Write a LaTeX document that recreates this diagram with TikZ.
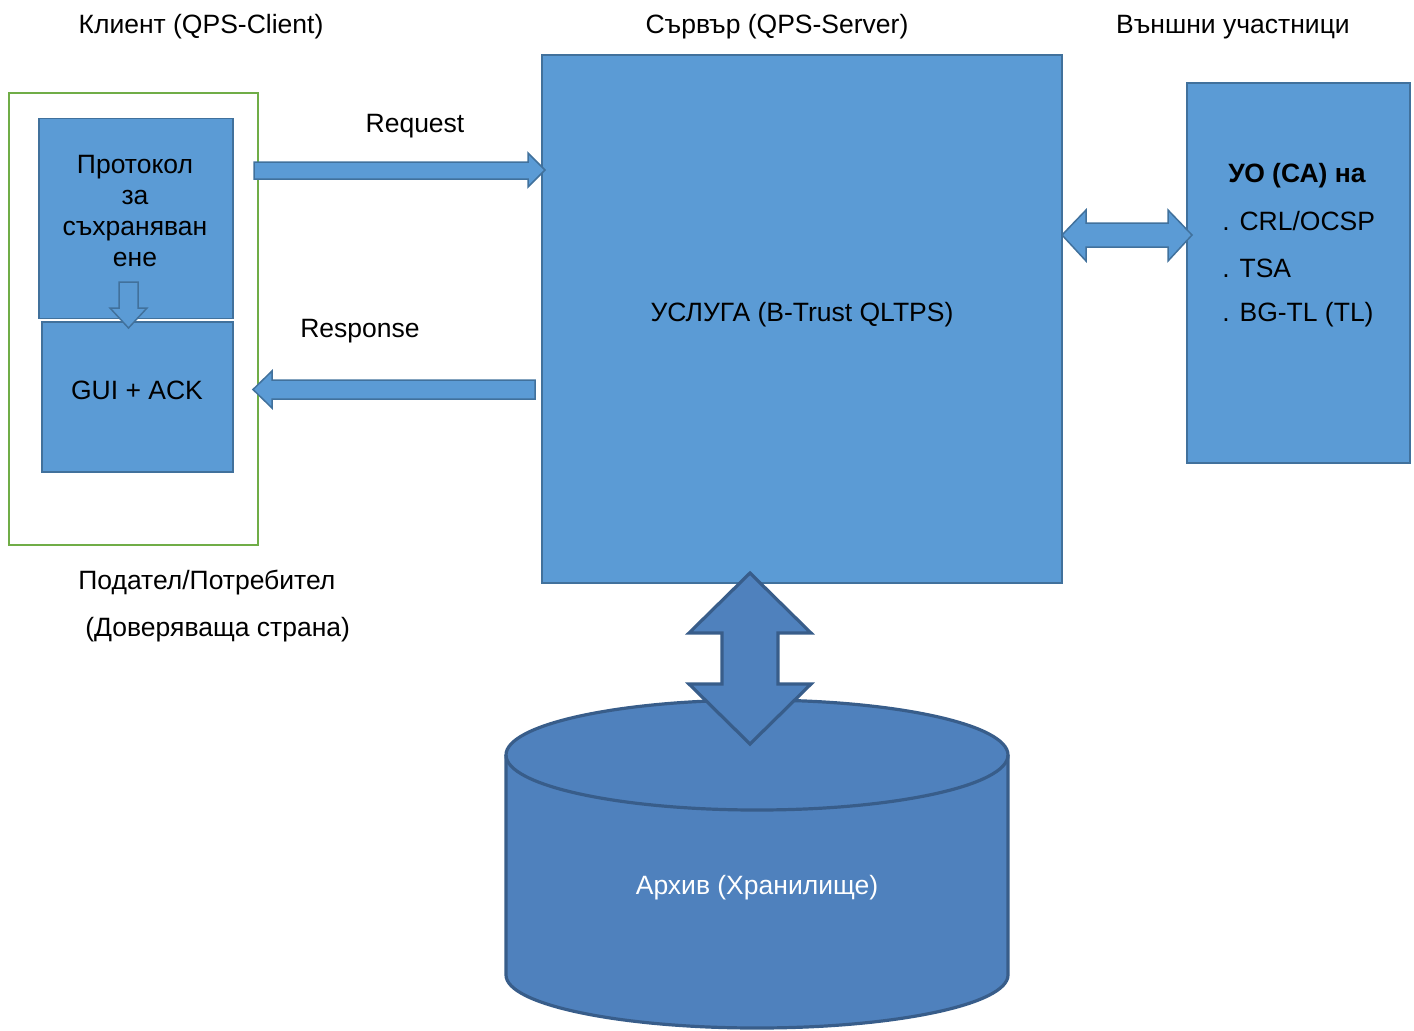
\documentclass[tikz,border=0pt]{standalone}
\usepackage{fontspec}
\setmainfont{Liberation Sans}
\definecolor{boxfill}{HTML}{5B9BD5}
\definecolor{boxline}{HTML}{41719C}
\definecolor{grn}{HTML}{70AD47}
\definecolor{cylfill}{HTML}{4F81BD}
\definecolor{cylline}{HTML}{385D8A}
\begin{document}
\begin{tikzpicture}[x=0.5pt,y=0.5pt,
  txt/.style={font=\fontsize{13.25}{15.5}\selectfont, inner sep=0pt, text=black, yshift=-1.5pt},
  bluebox/.style={draw=boxline, fill=boxfill, line width=0.75pt, inner sep=0pt},
  blockarrow/.style={draw=boxline, fill=boxfill, line width=0.75pt, line join=miter},
  bigarrow/.style={draw=cylline, fill=cylfill, line width=1.6pt, line join=miter}]
\useasboundingbox (0,0) rectangle (1414,-1030);
% titles
\node[txt] (tclient) at (201,-24) {Клиент (QPS-Client)};
\node[txt] (tserver) at (777,-24) {Сървър (QPS-Server)};
\node[txt] (text) at (1233,-24) {Външни участници};
% client frame
\draw[grn, line width=1pt] (9,-93) rectangle (258,-545);
\node[bluebox, minimum width=97pt, minimum height=100pt] (prot) at (136,-218.5) {};
\node[txt, align=center] (protxt) at (135,-208.5) {Протокол\\за\\съхраняван\\ене};
\node[bluebox, minimum width=95.5pt, minimum height=75pt] (gui) at (137.5,-397) {};
\node[txt] (guitxt) at (137,-387.5) {GUI + ACK};
% small hollow arrow
\path[blockarrow] (119,-282) -- (138,-282) -- (138,-308) -- (147,-308) -- (128.5,-328) -- (110,-308) -- (119,-308) -- cycle;
% client labels
\node[txt, anchor=west] (sender) at (78,-580) {Подател/Потребител};
\node[txt, anchor=west] (relying) at (85,-627) {(Доверяваща страна)};
% server
\node[bluebox, minimum width=260pt, minimum height=264pt] (server) at (802,-319) {};
\node[txt] (servtxt) at (802,-312) {УСЛУГА (B-Trust QLTPS)};
% request / response arrows
\path[blockarrow] (254,-162) -- (528,-162) -- (528,-153) -- (545,-170) -- (528,-187) -- (528,-179) -- (254,-179) -- cycle;
\node[txt] (req) at (415,-123) {Request};
\path[blockarrow] (535,-380) -- (272,-380) -- (272,-371) -- (253,-389.5) -- (272,-408) -- (272,-399) -- (535,-399) -- cycle;
\node[txt] (resp) at (360,-328) {Response};
% external box
\node[bluebox, minimum width=111.5pt, minimum height=190pt] (ca) at (1298.5,-273) {};
\node[txt, font=\fontsize{13.25}{15.5}\selectfont\bfseries] (catitle) at (1297,-173) {УО (СА) на};
\node[txt, anchor=west] (crl) at (1222,-218) {. CRL/OCSP};
\node[txt, anchor=west] (tsa) at (1222,-265) {. TSA};
\node[txt, anchor=west] (bgtl) at (1222,-312) {. BG-TL (TL)};
% double arrow server <-> CA
\path[blockarrow] (1062,-235) -- (1086,-210) -- (1086,-223) -- (1168,-223) -- (1168,-210) -- (1192,-235) -- (1168,-261) -- (1168,-247) -- (1086,-247) -- (1086,-261) -- cycle;
% cylinder
\path[fill=cylfill] (506,-755) -- (506,-975) arc[start angle=180,end angle=360,x radius=125.5pt,y radius=26.5pt] -- (1008,-755) arc[start angle=0,end angle=180,x radius=125.5pt,y radius=27.5pt] -- cycle;
\draw[cylline, line width=1.6pt] (506,-755) -- (506,-975) arc[start angle=180,end angle=360,x radius=125.5pt,y radius=26.5pt] -- (1008,-755);
\draw[cylline, line width=1.6pt] (757,-755) ellipse[x radius=125.5pt,y radius=27.5pt];
\node[txt, text=white] (arch) at (757,-885) {Архив (Хранилище)};
% vertical double arrow
\path[bigarrow] (750,-573) -- (811,-633) -- (778,-633) -- (778,-684) -- (811,-684) -- (750,-744) -- (689,-684) -- (722,-684) -- (722,-633) -- (689,-633) -- cycle;
\end{tikzpicture}
\end{document}
